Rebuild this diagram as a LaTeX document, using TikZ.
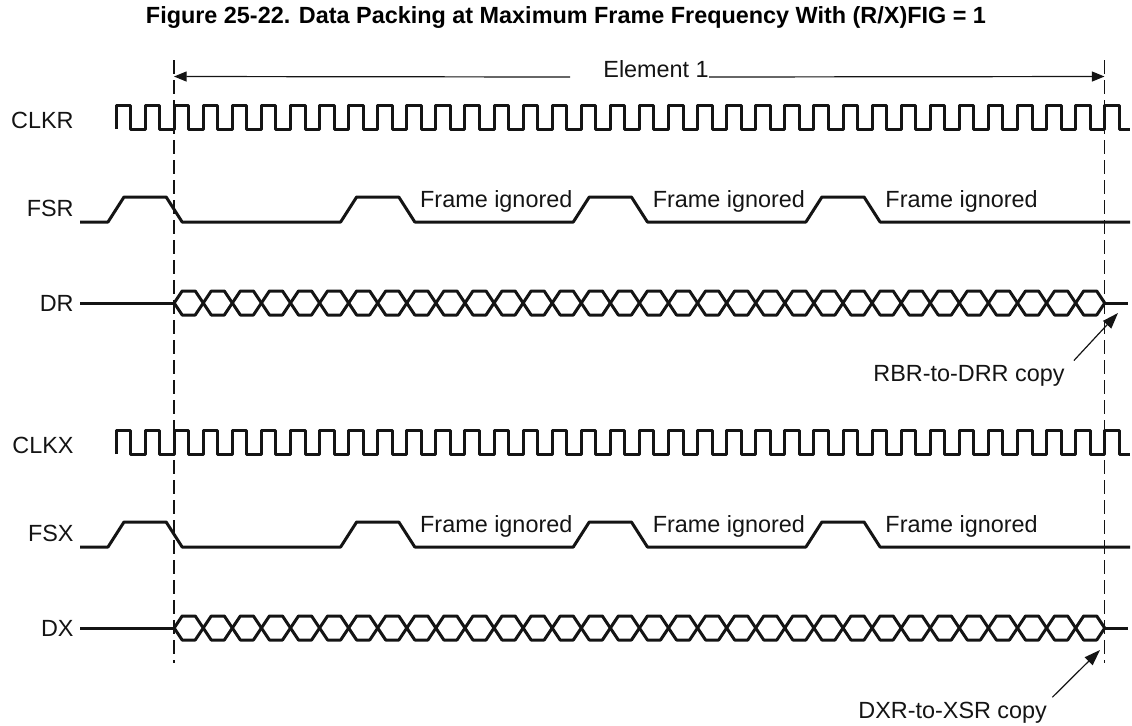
\documentclass[tikz,border=0pt]{standalone}
\usepackage{fontspec}
\setmainfont{Liberation Sans}
\usetikzlibrary{arrows.meta, positioning}
\definecolor{inkblack}{RGB}{20,20,20}
\tikzset{
  signal/.style={
    draw=inkblack, line width=1.5pt, line join=round
  },
  guideline/.style={
    draw=inkblack, line width=0.6pt, dash pattern=on 7pt off 3pt
  },
  spanarrow/.style={
    -{Triangle[length=6.3pt,width=5pt]},
    draw=inkblack, line width=0.6pt
  },
  notearrow/.style={
    -{Triangle[length=8pt,width=5.5pt]},
    draw=inkblack, line width=0.6pt
  },
  siglabel/.style={
    font=\fontsize{11.7}{14}\selectfont\color{inkblack},
    inner sep=0pt, anchor=east
  },
  notelabel/.style={
    font=\fontsize{11.7}{14}\selectfont\color{inkblack},
    inner sep=0pt, anchor=base west
  },
  diagramtitle/.style={
    font=\fontsize{11.7}{14}\selectfont\bfseries\color{black},
    inner sep=0pt, anchor=base
  },
}
\begin{document}
\begin{tikzpicture}[x=0.5pt, y=-0.5pt]

  \useasboundingbox (0,0) rectangle (1132,725);
  \def\per{29.08}

  %% Title
  \node[diagramtitle] (T) at (566,23)
    {Figure 25-22. Data Packing at Maximum Frame Frequency With (R/X)FIG = 1};

  %% Element boundaries
  \coordinate (guideLtop) at (174,60);
  \coordinate (guideLbot) at (174,663);
  \coordinate (guideRtop) at (1104.5,60);
  \coordinate (guideRbot) at (1104.5,663);
  \draw[guideline] (guideLtop) -- (guideLbot);
  \draw[guideline] (guideRtop) -- (guideRbot);

  %% Element 1 span
  \coordinate (elemL) at (174,76.5);
  \coordinate (elemR) at (1104.5,76.5);
  \node[notelabel] (elem) at (603,77) {Element 1};
  \draw[spanarrow] ([xshift=-16.5pt]elem.base west) -- (elemL);
  \draw[spanarrow] (elem.base east) -- (elemR);

  %% Receive and transmit groups
  \foreach \gy/\gclk/\gfs/\gdat in {0/CLKR/FSR/DR, 325/CLKX/FSX/DX} {

    %% Labels
    \node[siglabel] (\gclk) at (74,120+\gy) {\gclk};
    \node[siglabel] (\gfs) at (74,208+\gy) {\gfs};
    \node[siglabel] (\gdat) at (74,303+\gy) {\gdat};

    %% Clock
    \draw[signal] (116,129+\gy)
      \foreach \k in {0,...,33} {
        -- ++(0,-24) -- ++(\per/2,0) -- ++(0,24) -- ++(\per/2,0)
      }
      -- ++(0,-24) -- ++(\per/2,0) -- ++(0,24) -- (1130,129+\gy);

    %% Frame sync
    \draw[signal] (80,222+\gy)
      \foreach \k in {0,8,16,24} {
        -- ({116+\k*\per-8},222+\gy) -- ({116+\k*\per+8},197+\gy)
        -- ({116+(\k+2)*\per-8},197+\gy) -- ({116+(\k+2)*\per+8},222+\gy)
      }
      -- (1130,222+\gy);
    \foreach \k in {8,16,24}
      \node[notelabel] (ign-\gfs-\k) at ({116+(\k+2)*\per+13},207+\gy)
        {Frame ignored};

    %% Data
    \draw[signal] (80,303+\gy) -- ({116+2*\per},303+\gy);
    \foreach \k in {2,...,33}
      \draw[signal] ({116+\k*\per},303+\gy) -- ++(8,-12)
        -- ({116+(\k+1)*\per-8},291+\gy) -- ++(8,12) -- ++(-8,12)
        -- ({116+\k*\per+8},315+\gy) -- cycle;
    \draw[signal] ({116+34*\per},303+\gy) -- (1128,303+\gy);
  }

  %% Annotation: RBR-to-DRR copy
  \node[notelabel] (rbr) at (873,381) {RBR-to-DRR copy};
  \coordinate (rbrtip) at (1118,313);
  \draw[notearrow] ([xshift=4.5pt,yshift=2pt]rbr.north east) -- (rbrtip);

  %% Annotation: DXR-to-XSR copy
  \node[notelabel] (dxr) at (858,718) {DXR-to-XSR copy};
  \coordinate (dxrtip) at (1100,650);
  \draw[notearrow] ([xshift=2.5pt,yshift=2pt]dxr.north east) -- (dxrtip);

\end{tikzpicture}
\end{document}
